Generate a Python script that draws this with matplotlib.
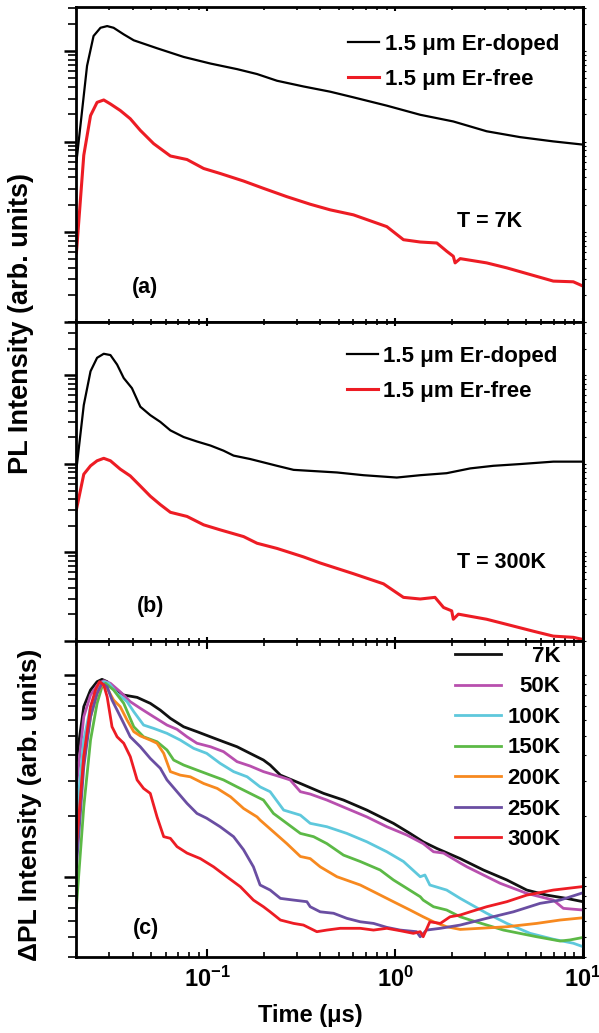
import numpy as np
import matplotlib.pyplot as plt
from matplotlib.ticker import LogLocator, NullFormatter

plt.rcParams['font.family'] = ['Liberation Sans', 'DejaVu Sans']
plt.rcParams['font.weight'] = 'bold'
plt.rcParams['axes.labelweight'] = 'bold'
plt.rcParams['mathtext.fontset'] = 'custom'
plt.rcParams['mathtext.rm'] = 'Liberation Sans:bold'
plt.rcParams['mathtext.bf'] = 'Liberation Sans:bold'
plt.rcParams['mathtext.it'] = 'Liberation Sans:bold:italic'
plt.rcParams['axes.linewidth'] = 2.0

RED = '#ed1c24'

# ---- panel (a), T = 7K ----
t_a_doped = [0.0201, 0.0229, 0.0248, 0.0270, 0.0293, 0.0317, 0.0359, 0.0406, 0.0540, 0.0748,
             0.104, 0.144, 0.184, 0.235, 0.325, 0.451, 0.600, 0.903, 1.36, 2.04, 3.07, 4.62,
             6.92, 10.0]
pl_a_doped = [59.4, 690, 1479, 1824, 1905, 1824, 1542, 1325, 1082, 867,
              732, 635, 560, 472, 408, 357, 309, 250, 198, 167, 130, 112,
              100.5, 92.5]
t_a_free = [0.0201, 0.0220, 0.0239, 0.0259, 0.0281, 0.0305, 0.0344, 0.0389, 0.0440, 0.0518,
            0.0636, 0.078, 0.0956, 0.117, 0.156, 0.199, 0.265, 0.353, 0.451, 0.600,
            0.903, 1.107, 1.36, 1.667, 1.884, 2.04, 2.085, 2.22, 3.07, 3.93,
            5.23, 6.95, 8.88, 10.0]
pl_a_free = [5.82, 70.5, 194, 272, 289, 261, 221, 179, 133, 94.8,
             69.2, 63.2, 50.3, 44.3, 36.5, 30.3, 24.5, 20.2, 17.5, 15.4,
             11.4, 8.17, 7.70, 7.51, 6.07, 5.35, 4.52, 5.04, 4.52, 3.98,
             3.36, 2.84, 2.79, 2.50]

# ---- panel (b), T = 300K ----
t_b_doped = [0.0201, 0.0220, 0.0239, 0.0259, 0.0281, 0.0305, 0.0331, 0.0359, 0.0397, 0.0440,
             0.0497, 0.0562, 0.0636, 0.0748, 0.0881, 0.104, 0.122, 0.138, 0.169, 0.199,
             0.235, 0.288, 0.353, 0.490, 0.678, 1.02, 1.36, 1.88, 2.51, 3.33,
             4.62, 6.95, 10.0]
pl_b_doped = [87.2, 461, 1111, 1577, 1751, 1693, 1322, 931, 716, 442,
              355, 298, 239, 201, 179, 161, 141, 124, 113.5, 104,
              95.1, 85.6, 83.4, 80.0, 74.5, 70.1, 74.5, 78.5, 88.9, 95.1,
              99.5, 106, 106]
t_b_free = [0.0201, 0.0220, 0.0239, 0.0259, 0.0281, 0.0305, 0.0344, 0.0389, 0.0440, 0.0497,
            0.0562, 0.0636, 0.078, 0.0956, 0.117, 0.156, 0.184, 0.235, 0.325, 0.399,
            0.600, 0.867, 1.107, 1.36, 1.63, 1.81, 2.00, 2.04, 2.17, 3.07,
            3.93, 5.44, 6.95, 8.88, 10.0]
pl_b_free = [30.4, 76.4, 95.1, 108.4, 115.6, 108.4, 87.2, 73.1, 56.2, 43.2,
             34.7, 28.4, 25.5, 20.5, 18.0, 15.1, 12.7, 11.1, 8.91, 7.60,
             5.75, 4.42, 3.11, 2.98, 3.11, 2.39, 2.19, 1.76, 2.01, 1.76,
             1.54, 1.29, 1.135, 1.10, 1.04]

# ---- panel (c), normalised difference ----
t_7k = [0.0201, 0.0220, 0.0239, 0.0259, 0.0275, 0.0293, 0.0317, 0.0359, 0.0423, 0.0497,
        0.0562, 0.0636, 0.0748, 0.0881, 0.104, 0.122, 0.144, 0.169, 0.199, 0.216,
        0.245, 0.313, 0.416, 0.531, 0.707, 0.979, 1.20, 1.41, 1.67, 2.22,
        2.95, 3.93, 5.02, 6.40, 8.18, 10.0]
d_7k = [0.379, 0.697, 0.843, 0.927, 0.952, 0.927, 0.859, 0.796, 0.775, 0.724,
        0.670, 0.610, 0.554, 0.524, 0.494, 0.467, 0.441, 0.409, 0.379, 0.358,
        0.319, 0.290, 0.259, 0.240, 0.214, 0.184, 0.164, 0.149, 0.138, 0.123,
        0.108, 0.0964, 0.0859, 0.0811, 0.0781, 0.0752]
t_50k = [0.0201, 0.0220, 0.0239, 0.0264, 0.0281, 0.0305, 0.0344, 0.0389, 0.0440, 0.0518,
         0.0610, 0.0690, 0.078, 0.0881, 0.104, 0.122, 0.144, 0.169, 0.199, 0.245,
         0.276, 0.313, 0.353, 0.433, 0.553, 0.707, 0.903, 1.154, 1.41, 1.60,
         1.81, 2.22, 2.41, 3.62, 5.02, 6.95, 7.86, 10.0]
d_50k = [0.279, 0.621, 0.796, 0.910, 0.937, 0.910, 0.826, 0.738, 0.684, 0.621,
         0.565, 0.538, 0.494, 0.459, 0.441, 0.417, 0.372, 0.354, 0.332, 0.313,
         0.302, 0.264, 0.257, 0.240, 0.218, 0.198, 0.177, 0.161, 0.146, 0.133,
         0.131, 0.117, 0.112, 0.0928, 0.0827, 0.0766, 0.0697, 0.0684]
t_100k = [0.0201, 0.0220, 0.0239, 0.0259, 0.0281, 0.0299, 0.0331, 0.0374, 0.0406, 0.0458,
          0.0518, 0.0610, 0.0718, 0.0846, 0.0993, 0.117, 0.138, 0.163, 0.191, 0.216,
          0.255, 0.313, 0.353, 0.433, 0.553, 0.707, 0.903, 1.107, 1.36, 1.44,
          1.53, 1.88, 2.22, 3.07, 3.93, 5.23, 6.95, 8.88, 10.0]
d_100k = [0.198, 0.476, 0.697, 0.843, 0.927, 0.910, 0.811, 0.738, 0.658, 0.565,
          0.544, 0.514, 0.476, 0.433, 0.409, 0.365, 0.332, 0.313, 0.279, 0.264,
          0.214, 0.202, 0.184, 0.177, 0.164, 0.149, 0.133, 0.119, 0.100, 0.102,
          0.0910, 0.0859, 0.0781, 0.0659, 0.0587, 0.0524, 0.0490, 0.0468, 0.0450]
t_150k = [0.0201, 0.0220, 0.0239, 0.0259, 0.0275, 0.0287, 0.0317, 0.0359, 0.0406, 0.0458,
          0.0540, 0.0610, 0.0662, 0.0748, 0.0881, 0.104, 0.122, 0.144, 0.169, 0.199,
          0.225, 0.265, 0.313, 0.368, 0.433, 0.531, 0.652, 0.832, 0.979, 1.154,
          1.36, 1.41, 1.60, 1.88, 2.22, 2.51, 3.77, 5.67, 7.55, 8.53, 10.0]
d_150k = [0.0710, 0.222, 0.476, 0.724, 0.875, 0.910, 0.843, 0.724, 0.554, 0.494,
          0.467, 0.425, 0.379, 0.358, 0.338, 0.319, 0.302, 0.279, 0.259, 0.240,
          0.206, 0.184, 0.164, 0.158, 0.146, 0.128, 0.119, 0.108, 0.0964, 0.0876,
          0.0796, 0.0766, 0.0710, 0.0684, 0.0633, 0.0610, 0.0544, 0.0504, 0.0480, 0.0486, 0.0500]
t_200k = [0.0201, 0.0220, 0.0239, 0.0259, 0.0275, 0.0293, 0.0317, 0.0344, 0.0374, 0.0406,
          0.0440, 0.0497, 0.0540, 0.0586, 0.0636, 0.0718, 0.0812, 0.0956, 0.113, 0.133,
          0.156, 0.184, 0.191, 0.225, 0.265, 0.313, 0.353, 0.399, 0.490, 0.652,
          0.800, 0.979, 1.20, 1.41, 1.60, 1.88, 2.22, 2.83, 3.93, 5.67, 7.55, 10.0]
d_200k = [0.126, 0.394, 0.621, 0.811, 0.892, 0.859, 0.752, 0.697, 0.598, 0.524,
          0.499, 0.476, 0.459, 0.409, 0.332, 0.319, 0.313, 0.290, 0.274, 0.249,
          0.218, 0.198, 0.191, 0.167, 0.146, 0.126, 0.123, 0.112, 0.100, 0.0910,
          0.0827, 0.0752, 0.0684, 0.0633, 0.0598, 0.0565, 0.0548, 0.0555, 0.0565, 0.0587,
          0.0610, 0.0626]
t_250k = [0.0201, 0.0220, 0.0239, 0.0259, 0.0275, 0.0293, 0.0311, 0.0331, 0.0359, 0.0389,
          0.0440, 0.0497, 0.0562, 0.0610, 0.0690, 0.078, 0.0881, 0.0993, 0.117, 0.138,
          0.156, 0.176, 0.191, 0.216, 0.245, 0.288, 0.339, 0.353, 0.399, 0.470,
          0.553, 0.652, 0.767, 0.903, 1.063, 1.30, 1.36, 1.47, 1.74, 2.22,
          3.07, 4.26, 5.91, 7.55, 10.0]
d_250k = [0.112, 0.351, 0.621, 0.811, 0.910, 0.875, 0.752, 0.670, 0.576, 0.494,
          0.441, 0.386, 0.345, 0.302, 0.264, 0.231, 0.206, 0.195, 0.177, 0.158,
          0.136, 0.112, 0.0910, 0.0859, 0.0781, 0.0766, 0.0752, 0.0710, 0.0670, 0.0659,
          0.0622, 0.0598, 0.0587, 0.0561, 0.0544, 0.0534, 0.0504, 0.0544, 0.0555, 0.0576,
          0.0622, 0.0670, 0.0738, 0.0766, 0.0833]
t_300k = [0.0201, 0.0220, 0.0239, 0.0254, 0.0267, 0.0281, 0.0293, 0.0311, 0.0331, 0.0359,
          0.0389, 0.0423, 0.0458, 0.0497, 0.0540, 0.0586, 0.0636, 0.0690, 0.078, 0.0918,
          0.108, 0.127, 0.150, 0.176, 0.199, 0.216, 0.245, 0.288, 0.325, 0.383,
          0.433, 0.510, 0.652, 0.767, 0.903, 1.063, 1.25, 1.36, 1.41, 1.53,
          1.74, 1.96, 2.22, 2.51, 3.07, 3.93, 5.02, 6.95, 10.0]
d_300k = [0.141, 0.394, 0.697, 0.843, 0.927, 0.892, 0.780, 0.554, 0.494, 0.459,
          0.394, 0.302, 0.274, 0.259, 0.198, 0.158, 0.155, 0.141, 0.131, 0.123,
          0.112, 0.100, 0.0892, 0.0766, 0.0710, 0.0670, 0.0610, 0.0587, 0.0576, 0.0534,
          0.0544, 0.0555, 0.0555, 0.0544, 0.0555, 0.0540, 0.0524, 0.0534, 0.0504, 0.0598,
          0.0587, 0.0633, 0.0646, 0.0670, 0.0710, 0.0752, 0.0811, 0.0859, 0.0894]

temps = ['7K', '50K', '100K', '150K', '200K', '250K', '300K']
c_times = [t_7k, t_50k, t_100k, t_150k, t_200k, t_250k, t_300k]
c_vals = [d_7k, d_50k, d_100k, d_150k, d_200k, d_250k, d_300k]
c_colors = ['#111111', '#b84fae', '#5ec8dc', '#5cb946', '#f7891f', '#6a4ea2', RED]


def style(ax, ylim, xmaj=3.0, xmin=2.0):
    ax.set_xscale('log')
    ax.set_yscale('log')
    ax.set_xlim(0.02, 10)
    ax.set_ylim(*ylim)
    ax.yaxis.set_major_locator(LogLocator(10, numticks=20))
    ax.yaxis.set_minor_locator(LogLocator(10, subs=np.arange(2, 10), numticks=100))
    ax.yaxis.set_major_formatter(NullFormatter())
    ax.yaxis.set_minor_formatter(NullFormatter())
    ax.xaxis.set_minor_formatter(NullFormatter())
    ax.tick_params(axis='y', which='major', direction='out', length=9, width=1.8,
                   left=True, right=False)
    ax.tick_params(axis='y', which='minor', direction='out', length=5.5, width=1.2,
                   left=True, right=False)
    ax.tick_params(axis='x', which='major', direction='in', length=xmaj, width=1.5,
                   top=True, bottom=True, labelsize=17, pad=7)
    ax.tick_params(axis='x', which='minor', direction='in', length=xmin, width=1.2,
                   top=True, bottom=True)
    sec = ax.secondary_yaxis('right')
    sec.tick_params(which='both', direction='out', length=2.5, width=0.8)
    sec.yaxis.set_major_formatter(NullFormatter())
    sec.yaxis.set_minor_formatter(NullFormatter())


fig = plt.figure(figsize=(5.99, 10.33), dpi=100)
L, W = 76 / 599, 507 / 599
ax_a = fig.add_axes([L, 1 - 322 / 1033, W, 315 / 1033])
ax_b = fig.add_axes([L, 1 - 641 / 1033, W, 319 / 1033], sharex=ax_a)
ax_c = fig.add_axes([L, 1 - 957 / 1033, W, 316 / 1033], sharex=ax_a)

leg_kw = dict(frameon=False, fontsize=16, handlelength=1.4, handletextpad=0.25,
              labelspacing=0.62, borderpad=0, borderaxespad=0, loc='upper left')

# (a)
ax_a.plot(t_a_doped, pl_a_doped, color='black', lw=1.6, label='1.5 μm Er-doped')
ax_a.plot(t_a_free, pl_a_free, color=RED, lw=2.2, label='1.5 μm Er-free')
style(ax_a, (1.0, 3100))
ax_a.tick_params(labelbottom=False)
ax_a.legend(bbox_to_anchor=(0.5365, 0.915), **leg_kw)
ax_a.text(0.7515, 0.3175, 'T = 7K', transform=ax_a.transAxes, fontsize=15.5, va='center')
ax_a.text(0.11, 0.111, '(a)', transform=ax_a.transAxes, fontsize=15.5, va='center')

# (b)
ax_b.plot(t_b_doped, pl_b_doped, color='black', lw=1.6, label='1.5 μm Er-doped')
ax_b.plot(t_b_free, pl_b_free, color=RED, lw=2.2, label='1.5 μm Er-free')
style(ax_b, (1.0, 4000))
ax_b.tick_params(labelbottom=False)
ax_b.legend(bbox_to_anchor=(0.534, 0.925), **leg_kw)
ax_b.text(0.7515, 0.2476, 'T = 300K', transform=ax_b.transAxes, fontsize=15.5, va='center')
ax_b.text(0.12, 0.1075, '(b)', transform=ax_b.transAxes, fontsize=15.5, va='center')

# (c)
for tt, vv, col, lab in zip(c_times, c_vals, c_colors, temps):
    ax_c.plot(tt, vv, color=col, lw=2.0, label=lab)
style(ax_c, (0.04, 1.475), xmaj=6.0, xmin=3.5)
leg_c = ax_c.legend(bbox_to_anchor=(0.7475, 0.985), frameon=False, fontsize=16,
                    handlelength=2.05, handletextpad=0.3, labelspacing=0.43,
                    borderpad=0, borderaxespad=0, loc='upper left')
ax_c.text(0.113, 0.0908, '(c)', transform=ax_c.transAxes, fontsize=15.5, va='center')
ax_c.set_xlabel('Time (μs)', fontsize=17, fontweight='bold')
ax_c.xaxis.set_label_coords(0.4615, -0.15)

fig.text(0.035, 0.687, 'PL Intensity (arb. units)', rotation=90, fontsize=19.5,
         ha='center', va='center')
fig.text(0.050, 0.2207, 'ΔPL Intensity (arb. units)', rotation=90, fontsize=19,
         ha='center', va='center')

# right-align the temperature labels in the legend of (c)
fig.canvas.draw()
texts = leg_c.get_texts()
widths = [t.get_window_extent().width for t in texts]
shift = max(widths)
for t, w in zip(texts, widths):
    t.set_position((shift - w, 0))

fig.savefig('out.png', dpi=100)
